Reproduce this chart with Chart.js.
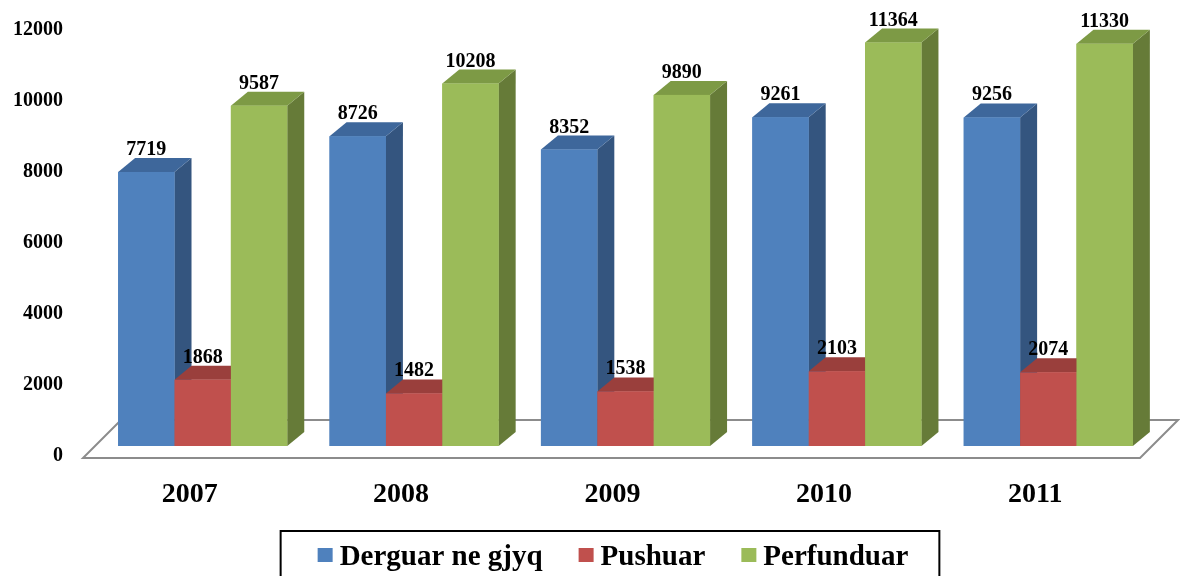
<!DOCTYPE html>
<html>
<head>
<meta charset="utf-8">
<script src="https://cdn.jsdelivr.net/npm/chart.js@4"></script>
<style>
  html, body { margin: 0; padding: 0; background: #fff; }
  #wrap { width: 1180px; height: 576px; }
</style>
</head>
<body>
<div id="wrap"><canvas id="chart"></canvas></div>
<script>
const years = ['2007', '2008', '2009', '2010', '2011'];
const derguar = [7719, 8726, 8352, 9261, 9256];
const pushuar = [1868, 1482, 1538, 2103, 2074];
const perfunduar = [9587, 10208, 9890, 11364, 11330];
const seriesNames = ['Derguar ne gjyq', 'Pushuar', 'Perfunduar'];

const fronts = ['#4F81BD', '#C0504D', '#9BBB59'];
const sides = ['#34557F', '#8B3A38', '#667B38'];
const tops = ['#3E679B', '#9A3F3C', '#7D9A45'];
const serif = "'Liberation Serif', 'Times New Roman', serif";
const DX = 17, DY = 14;

const bars3d = {
    id: 'bars3d',
    beforeDatasetsDraw(chart) {
        // floor of the 3d plot
        const ctx = chart.ctx;
        const area = chart.chartArea;
        const base = chart.scales.y.getPixelForValue(0);
        ctx.save();
        ctx.strokeStyle = '#8c8c8c';
        ctx.lineWidth = 2;
        ctx.beginPath();
        ctx.moveTo(area.left - 14, base + 12);
        ctx.lineTo(area.right - 14, base + 12);
        ctx.lineTo(area.right + 24, base - 26);
        ctx.lineTo(area.left + 24, base - 26);
        ctx.closePath();
        ctx.stroke();
        ctx.restore();
    },
    afterDatasetsDraw(chart) {
        const ctx = chart.ctx;
        const n = chart.data.labels.length;
        ctx.save();
        for (let i = 0; i < n; i++) {
            chart.data.datasets.forEach((ds, d) => {
                const bar = chart.getDatasetMeta(d).data[i];
                const { x, y, base, width } = bar.getProps(['x', 'y', 'base', 'width'], true);
                const l = x - width / 2, r = x + width / 2;
                ctx.fillStyle = sides[d];
                ctx.beginPath();
                ctx.moveTo(r, y);
                ctx.lineTo(r + DX, y - DY);
                ctx.lineTo(r + DX, base - DY);
                ctx.lineTo(r, base);
                ctx.closePath();
                ctx.fill();
                ctx.fillStyle = tops[d];
                ctx.beginPath();
                ctx.moveTo(l, y);
                ctx.lineTo(l + DX, y - DY);
                ctx.lineTo(r + DX, y - DY);
                ctx.lineTo(r, y);
                ctx.closePath();
                ctx.fill();
                ctx.fillStyle = fronts[d];
                ctx.fillRect(l, y, width, base - y);
            });
        }
        ctx.fillStyle = '#000';
        ctx.font = 'bold 20px ' + serif;
        ctx.textAlign = 'center';
        ctx.textBaseline = 'alphabetic';
        chart.data.datasets.forEach((ds, d) => {
            chart.getDatasetMeta(d).data.forEach((bar, i) => {
                ctx.fillText(String(ds.data[i]), bar.x, bar.y - DY - 3);
            });
        });
        ctx.restore();
    },
    afterDraw(chart) {
        // boxed legend
        const ctx = chart.ctx;
        ctx.save();
        ctx.font = 'bold 29px ' + serif;
        const bw = 15, bh = 14, gap = 7, spacing = 36, padL = 37, padR = 31;
        const widths = seriesNames.map(t => bw + gap + ctx.measureText(t).width);
        const total = widths.reduce((a, b) => a + b, 0) + spacing * (widths.length - 1);
        const cx = chart.width / 2 + 23;
        const baseline = 565;
        let x = cx - total / 2;
        ctx.strokeStyle = '#000';
        ctx.lineWidth = 2;
        ctx.strokeRect(x - padL, 531, total + padL + padR, 60);
        ctx.textBaseline = 'alphabetic';
        ctx.textAlign = 'left';
        seriesNames.forEach((t, d) => {
            ctx.fillStyle = fronts[d];
            ctx.fillRect(x, 548, bw, bh);
            ctx.fillStyle = '#000';
            ctx.fillText(t, x + bw + gap, baseline);
            x += widths[d] + spacing;
        });
        ctx.restore();
    }
};

new Chart(document.getElementById('chart'), {
    type: 'bar',
    data: {
        labels: years,
        datasets: [
            { label: seriesNames[0], data: derguar, backgroundColor: fronts[0] },
            { label: seriesNames[1], data: pushuar, backgroundColor: fronts[1] },
            { label: seriesNames[2], data: perfunduar, backgroundColor: fronts[2] },
        ],
    },
    options: {
        responsive: true,
        maintainAspectRatio: false,
        animation: false,
        layout: { padding: { top: 20, right: 26, bottom: 50, left: 0 } },
        datasets: { bar: { categoryPercentage: 0.8, barPercentage: 1, borderWidth: 0 } },
        plugins: {
            legend: { display: false },
            tooltip: { enabled: false },
        },
        scales: {
            x: {
                grid: { display: false, drawTicks: false },
                border: { display: false },
                ticks: { color: '#000', font: { family: serif, size: 28, weight: 'bold' }, padding: 32, labelOffset: -13 },
                afterFit(scale) { scale.height = 80; scale.paddingLeft = 0; scale.paddingRight = 0; },
            },
            y: {
                min: 0,
                max: 12000,
                grid: { display: false, drawTicks: false },
                border: { display: false },
                ticks: {
                    stepSize: 2000,
                    color: '#000',
                    font: { family: serif, size: 20, weight: 'bold' },
                    padding: 34,
                    labelOffset: 10,
                    callback: v => String(v),
                },
                afterFit(scale) { scale.width = 97; scale.paddingTop = 0; scale.paddingBottom = 0; },
            },
        },
    },
    plugins: [bars3d],
});
</script>
</body>
</html>
